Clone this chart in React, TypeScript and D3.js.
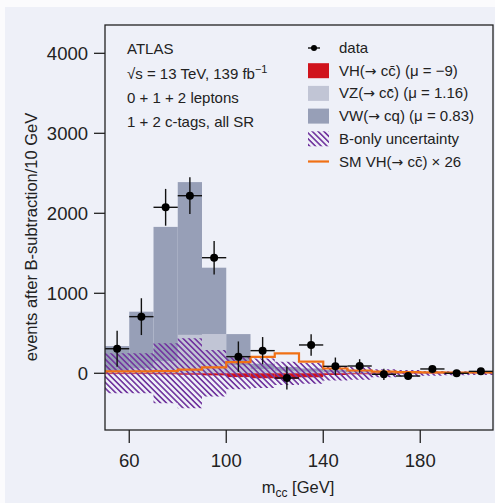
import React from "react";
import * as d3 from "d3";

const binLow = [50, 60, 70, 80, 90, 100, 110, 120, 130, 140, 150, 160, 170, 180, 190, 200];
const binWidth = 10;
const dataY = [307, 708, 2075, 2220, 1445, 208, 283, -59, 354, 87, 91, -13, -34, 54, 0, 24];
const dataErr = [225, 230, 230, 230, 210, 190, 170, 145, 135, 110, 85, 70, 45, 30, 25, 20];
const vzVals = [30, 60, 150, 480, 490, 100, 50, 30, 20, 15, 10, 8, 6, 5, 4, 3];
const vwVals = [310, 710, 1680, 1910, 830, 390, 70, 50, 40, 25, 15, 10, 8, 6, 5, 4];
const vhVals = [-10, -10, -12, -18, -26, -48, -62, -70, -50, -21, -12, -7, -5, -4, -3, -3];
const smVals = [25, 25, 28, 45, 75, 140, 205, 250, 145, 60, 35, 20, 15, 12, 10, 10];
const bOnly = [250, 250, 375, 437, 290, 200, 185, 145, 130, 90, 80, 50, 40, 30, 25, 20];
const xTicks = [60, 100, 140, 180];
const yTicks = [0, 1000, 2000, 3000, 4000];

const infoLines = ["ATLAS", "\u221As = 13 TeV, 139 fb", "0 + 1 + 2 leptons", "1 + 2 c-tags, all SR"];
const legendLabels: [string, string | null][] = [
  ["data", null],
  ["VH(", " cc\u0304) (\u03bc = \u22129)"],
  ["VZ(", " cc\u0304) (\u03bc = 1.16)"],
  ["VW(", " cq) (\u03bc = 0.83)"],
  ["B-only uncertainty", null],
  ["SM VH(", " cc\u0304) \u00d7 26"],
];

const FONT = "'Liberation Sans', Arial, sans-serif";
const BG = "#eef0f8";
const C_VW = "#979fb7";
const C_VZ = "#c1c5d5";
const C_VH = "#d0131c";
const C_SM = "#f07015";
const C_HATCH = "#7338a0";

export default function App() {
  const L = 105, R = 493, T = 25, B = 430;
  const x = d3.scaleLinear().domain([50, 210]).range([L, R]);
  const y = d3.scaleLinear().domain([-709, 4354]).range([B, T]);

  const step = d3
    .line<[number, number]>()
    .x((d) => x(d[0]))
    .y((d) => y(d[1]))
    .curve(d3.curveStepAfter);
  const smPts: [number, number][] = binLow.map((b, i) => [b, smVals[i]]);
  smPts.push([binLow[binLow.length - 1] + binWidth, smVals[smVals.length - 1]]);

  const bandArea = d3
    .area<[number, number]>()
    .x((d) => x(d[0]))
    .y0((d) => y(-d[1]))
    .y1((d) => y(d[1]))
    .curve(d3.curveStepAfter);
  const bandPts: [number, number][] = binLow.map((b, i) => [b, bOnly[i]]);
  bandPts.push([210, bOnly[bOnly.length - 1]]);

  const legY0 = 48;
  const legDy = 22.7;

  return (
    <svg
      width={495}
      height={503}
      style={{ position: "absolute", left: 0, top: 0 }}
      fontFamily={FONT}
    >
      <defs>
        <pattern
          id="hatch"
          patternUnits="userSpaceOnUse"
          width={4.1}
          height={10}
          patternTransform="rotate(-45)"
        >
          <line x1={1} y1={-1} x2={1} y2={11} stroke={C_HATCH} strokeWidth={1.3} shapeRendering="crispEdges" />
        </pattern>
        <clipPath id="plotclip">
          <rect x={L} y={T} width={R - L} height={B - T} />
        </clipPath>
      </defs>
      <rect x={0} y={0} width={495} height={503} fill="#fbfbfd" />
      <rect x={5} y={7} width={490} height={496} fill={BG} />

      <g clipPath="url(#plotclip)">
        {binLow.map((b, i) => (
          <rect
            key={"vz" + i}
            x={x(b)}
            width={x(b + binWidth) - x(b)}
            y={y(vzVals[i])}
            height={y(0) - y(vzVals[i])}
            fill={C_VZ}
          />
        ))}
        {binLow.map((b, i) => (
          <rect
            key={"vw" + i}
            x={x(b)}
            width={x(b + binWidth) - x(b)}
            y={y(vzVals[i] + vwVals[i])}
            height={y(vzVals[i]) - y(vzVals[i] + vwVals[i])}
            fill={C_VW}
          />
        ))}
        {binLow.map((b, i) => (
          <rect
            key={"vh" + i}
            x={x(b)}
            width={x(b + binWidth) - x(b)}
            y={y(0)}
            height={y(vhVals[i]) - y(0)}
            fill={C_VH}
          />
        ))}
        <path d={bandArea(bandPts) || ""} fill="url(#hatch)" />
        <path d={step(smPts) || ""} fill="none" stroke={C_SM} strokeWidth={2.2} />
        {binLow.map((b, i) => {
          const cx = x(b + binWidth / 2);
          return (
            <g key={"d" + i}>
              <line x1={x(b)} x2={x(b + binWidth)} y1={y(dataY[i])} y2={y(dataY[i])} stroke="#111" strokeWidth={1.4} />
              <line x1={cx} x2={cx} y1={y(dataY[i] - dataErr[i])} y2={y(dataY[i] + dataErr[i])} stroke="#111" strokeWidth={1.4} />
              <circle cx={cx} cy={y(dataY[i])} r={4} fill="#000" />
            </g>
          );
        })}
      </g>

      <rect x={L} y={T} width={R - L} height={B - T} fill="none" stroke="#222" strokeWidth={1.3} />

      {xTicks.map((t) => (
        <g key={"xt" + t}>
          <line x1={x(t)} x2={x(t)} y1={B} y2={B + 13} stroke="#222" strokeWidth={1.3} />
          <text x={x(t)} y={466.5} textAnchor="middle" fontSize={18.5} fill="#222">
            {t}
          </text>
        </g>
      ))}
      {yTicks.map((t) => (
        <g key={"yt" + t}>
          <line x1={L - 11} x2={L} y1={y(t)} y2={y(t)} stroke="#222" strokeWidth={1.3} />
          <text x={88} y={y(t) + 6.6} textAnchor="end" fontSize={18.5} fill="#222">
            {t}
          </text>
        </g>
      ))}

      <text x={298} y={493} textAnchor="middle" fontSize={16.5} fill="#222">
        m<tspan fontSize={12} dy={4}>cc</tspan>
        <tspan dy={-4}> [GeV]</tspan>
      </text>
      <text
        transform="translate(37,237) rotate(-90)"
        textAnchor="middle"
        fontSize={16.5}
        fill="#222"
      >
        events after B-subtraction/10 GeV
      </text>

      <g fontSize={15} fill="#222">
        <text x={127} y={54}>{infoLines[0]}</text>
        <text x={127} y={79}>
          {infoLines[1]}
          <tspan fontSize={11} dy={-6}>{"\u22121"}</tspan>
        </text>
        <text x={127} y={102.7}>{infoLines[2]}</text>
        <text x={127} y={126.7}>{infoLines[3]}</text>
      </g>

      <g fontSize={15} fill="#222">
        {legendLabels.map((lab, i) => {
          const cy = legY0 + i * legDy;
          let sym: React.ReactNode = null;
          if (i === 0) {
            sym = (
              <g>
                <line x1={308} x2={320} y1={cy} y2={cy} stroke="#111" strokeWidth={1.4} />
                <circle cx={314} cy={cy} r={3} fill="#000" />
              </g>
            );
          } else if (i >= 1 && i <= 3) {
            const fill = i === 1 ? C_VH : i === 2 ? C_VZ : C_VW;
            sym = <rect x={308} y={cy - 7.5} width={21} height={15} fill={fill} />;
          } else if (i === 4) {
            sym = <rect x={308} y={cy - 7.5} width={21} height={15} fill="url(#hatch)" />;
          } else {
            sym = <line x1={308} x2={329} y1={cy} y2={cy} stroke={C_SM} strokeWidth={2.2} />;
          }
          return (
            <g key={"leg" + i}>
              {sym}
              <text x={339} y={cy + 5}>
                {lab[0]}
                {lab[1] !== null && (
                  <tspan fontFamily="'DejaVu Sans', sans-serif" fontSize={14}>{"\u2192"}</tspan>
                )}
                {lab[1] !== null && lab[1]}
              </text>
            </g>
          );
        })}
      </g>
    </svg>
  );
}
